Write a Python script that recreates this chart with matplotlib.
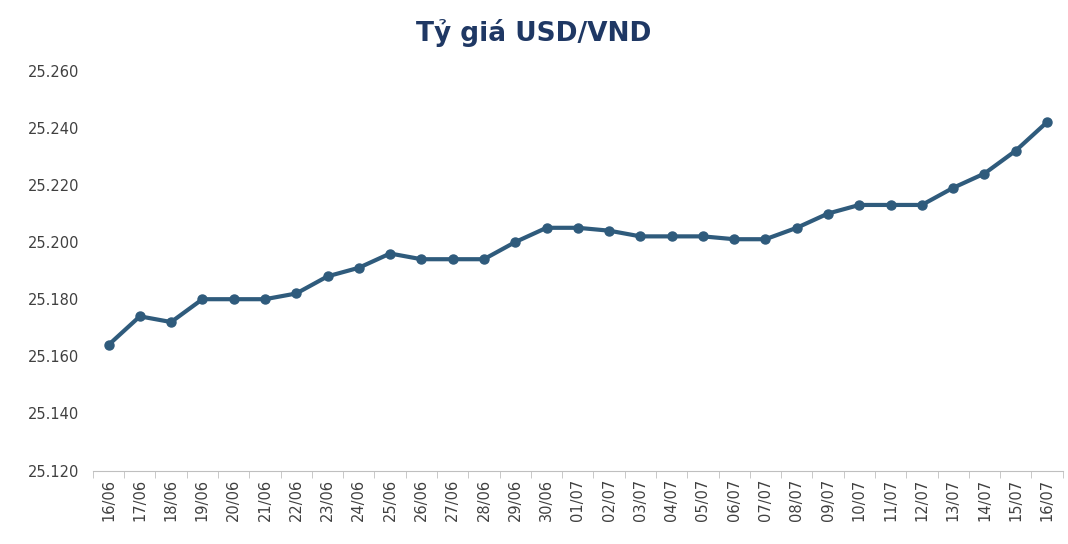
import matplotlib.pyplot as plt
from matplotlib.ticker import FuncFormatter, FixedLocator
import numpy as np

dates = ['16/06', '17/06', '18/06', '19/06', '20/06', '21/06', '22/06', '23/06',
         '24/06', '25/06', '26/06', '27/06', '28/06', '29/06', '30/06', '01/07',
         '02/07', '03/07', '04/07', '05/07', '06/07', '07/07', '08/07', '09/07',
         '10/07', '11/07', '12/07', '13/07', '14/07', '15/07', '16/07']
rates = [25164, 25174, 25172, 25180, 25180, 25180, 25182, 25188,
         25191, 25196, 25194, 25194, 25194, 25200, 25205, 25205,
         25204, 25202, 25202, 25202, 25201, 25201, 25205, 25210,
         25213, 25213, 25213, 25219, 25224, 25232, 25242]

color = '#2F5B7C'
fig, ax = plt.subplots(figsize=(10.68, 5.44), dpi=100)
fig.subplots_adjust(left=0.087, right=0.995, top=0.87, bottom=0.135)

x = np.arange(len(dates))
ax.plot(x, rates, color=color, linewidth=3, marker='o', markersize=6.5)

ax.set_ylim(25120, 25260)
ax.set_yticks(range(25120, 25261, 20))
ax.yaxis.set_major_formatter(FuncFormatter(lambda v, p: f'{v/1000:.3f}'))
ax.set_xlim(-0.5, len(dates) - 0.5)
ax.set_xticks(x)
ax.set_xticklabels(dates, rotation=90)
ax.xaxis.set_minor_locator(FixedLocator(np.arange(-0.5, len(dates), 1)))
ax.tick_params(axis='x', which='major', length=0, labelsize=10.5, colors='#404040', pad=6)
ax.tick_params(axis='x', which='minor', length=5, color='#BFBFBF')
ax.tick_params(axis='y', length=0, labelsize=10.5, colors='#404040', pad=10)

for s in ['top', 'right', 'left']:
    ax.spines[s].set_visible(False)
ax.spines['bottom'].set_color('#BFBFBF')

fig.suptitle('Tỷ giá USD/VND', fontsize=19, fontweight='bold', color='#1F3864', y=0.965)
fig.savefig('out.png')
